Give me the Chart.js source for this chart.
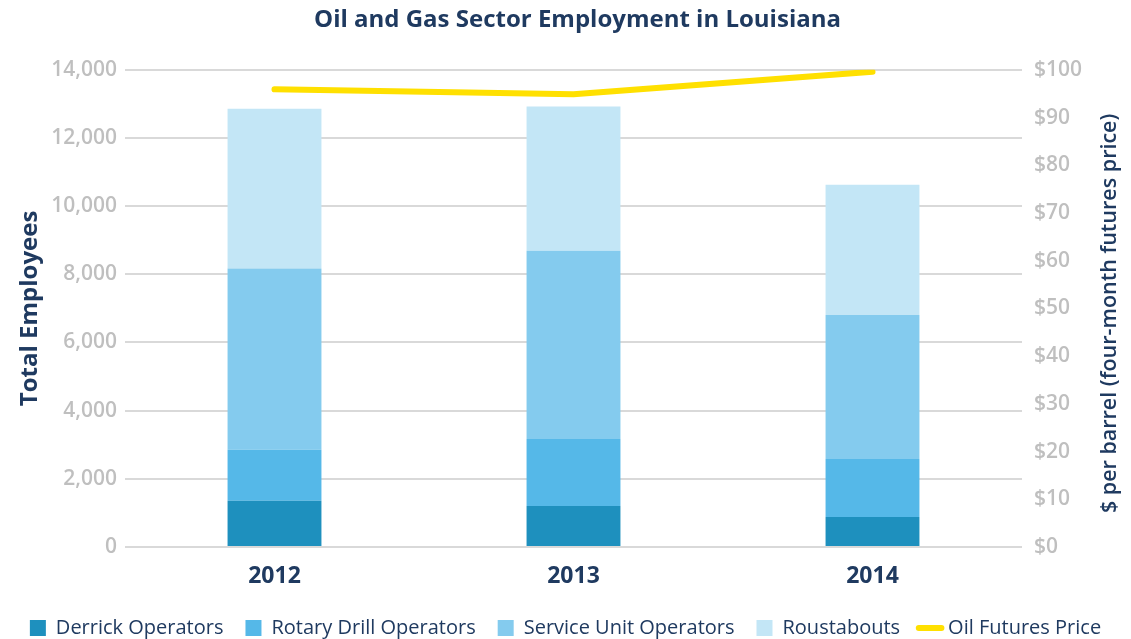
<!DOCTYPE html>
<html>
<head>
<meta charset="utf-8">
<script src="https://cdn.jsdelivr.net/npm/chart.js@4.4.1/dist/chart.umd.min.js"></script>
<style>
html,body{margin:0;padding:0;background:#fff;}
#wrap{width:1131px;height:639px;position:relative;}
</style>
</head>
<body>
<div id="wrap"><canvas id="c"></canvas></div>
<script>
const years = ['2012', '2013', '2014'];
const derrickOperators = [1360, 1200, 880];
const rotaryDrillOperators = [1490, 1970, 1700];
const serviceUnitOperators = [5320, 5520, 4230];
const roustabouts = [4690, 4230, 3815];
const oilFuturesPrice = [95.9, 94.9, 99.6];
const leftTicks = [0, 2000, 4000, 6000, 8000, 10000, 12000, 14000];
const rightTicks = [0, 10, 20, 30, 40, 50, 60, 70, 80, 90, 100];

const NAVY = '#1f3a60';
const GREY = '#bfbfbf';
const FONT = "'Open Sans', 'Liberation Sans', sans-serif";

const rightTitle = {
  id: 'rightTitle',
  afterDraw(chart) {
    const ctx = chart.ctx;
    const a = chart.chartArea;
    ctx.save();
    ctx.translate(1110, (a.top + a.bottom) / 2 + 5);
    ctx.rotate(-Math.PI / 2);
    ctx.fillStyle = NAVY;
    ctx.font = "600 21.5px " + FONT;
    ctx.textAlign = 'center';
    ctx.textBaseline = 'middle';
    ctx.fillText('$ per barrel (four-month futures price)', 0, 0);
    ctx.restore();
  }
};

const boxShift = {
  id: 'boxShift',
  afterLayout(chart) {
    const d = 9;
    chart.legend.top += d;
    chart.legend.bottom += d;
    const t = chart.titleBlock;
    if (t) { t.left += 12; t.right += 12; }
  }
};

new Chart(document.getElementById('c'), {
  data: {
    labels: years,
    datasets: [
      { type: 'line', label: 'Oil Futures Price', data: oilFuturesPrice, yAxisID: 'y2',
        borderColor: '#ffe000', backgroundColor: '#ffe000', borderWidth: 6,
        pointRadius: 0, tension: 0, borderCapStyle: 'round', borderJoinStyle: 'round', order: 0 },
      { type: 'bar', label: 'Derrick Operators', data: derrickOperators, backgroundColor: '#1e90be', stack: 's', order: 1 },
      { type: 'bar', label: 'Rotary Drill Operators', data: rotaryDrillOperators, backgroundColor: '#55b8e8', stack: 's', order: 1 },
      { type: 'bar', label: 'Service Unit Operators', data: serviceUnitOperators, backgroundColor: '#84cbee', stack: 's', order: 1 },
      { type: 'bar', label: 'Roustabouts', data: roustabouts, backgroundColor: '#c3e6f6', stack: 's', order: 1 }
    ]
  },
  options: {
    responsive: true,
    maintainAspectRatio: false,
    animation: false,
    datasets: { bar: { barPercentage: 0.314, categoryPercentage: 1.0 } },
    layout: { padding: { left: 0, right: 0, top: 0, bottom: 0 } },
    plugins: {
      title: {
        display: true,
        text: 'Oil and Gas Sector Employment in Louisiana',
        color: NAVY,
        font: { family: FONT, size: 24, weight: '700' },
        padding: { top: 6, bottom: 35 }
      },
      legend: {
        position: 'bottom',
        labels: {
          color: NAVY,
          font: { family: FONT, size: 20, weight: '500' },
          boxWidth: 16,
          boxHeight: 16,
          padding: 22,
          generateLabels(chart) {
            const items = chart.data.datasets.map((ds, i) => ({
              text: ds.label,
              fillStyle: ds.backgroundColor,
              strokeStyle: ds.type === 'line' ? ds.borderColor : ds.backgroundColor,
              lineWidth: ds.type === 'line' ? 6 : 0,
              lineCap: 'round',
              pointStyle: ds.type === 'line' ? 'line' : 'rect',
              fontColor: NAVY,
              datasetIndex: i,
              hidden: false
            }));
            const line = items.shift();
            items.push(line);
            return items;
          },
          usePointStyle: true
        }
      },
      tooltip: { enabled: false }
    },
    scales: {
      x: {
        grid: { display: false, drawTicks: false },
        border: { display: false },
        ticks: { color: NAVY, font: { family: FONT, size: 23, weight: '700' }, padding: 16 },
        afterFit(s) { s.height = 40; }
      },
      y: {
        position: 'left',
        stacked: true,
        min: 0, max: 14000,
        afterBuildTicks(s) { s.ticks = leftTicks.map(v => ({ value: v })); },
        ticks: {
          color: GREY, font: { family: FONT, size: 21, weight: '600' }, padding: 8,
          callback: v => v.toLocaleString('en-US')
        },
        grid: { color: '#d9d9d9', lineWidth: 2, drawTicks: false },
        border: { display: false },
        title: { display: true, text: 'Total Employees', color: NAVY,
                 font: { family: FONT, size: 24, weight: '700' }, padding: { top: 16, bottom: 0 } },
        afterFit(s) { s.width = 125; }
      },
      y2: {
        position: 'right',
        min: 0, max: 100,
        afterBuildTicks(s) { s.ticks = rightTicks.map(v => ({ value: v })); },
        ticks: {
          color: GREY, font: { family: FONT, size: 21, weight: '600' }, padding: 12,
          callback: v => '$' + v
        },
        grid: { display: false, drawTicks: false },
        border: { display: false },
        afterFit(s) { s.width = 109; }
      }
    }
  },
  plugins: [rightTitle, boxShift]
});
</script>
</body>
</html>
